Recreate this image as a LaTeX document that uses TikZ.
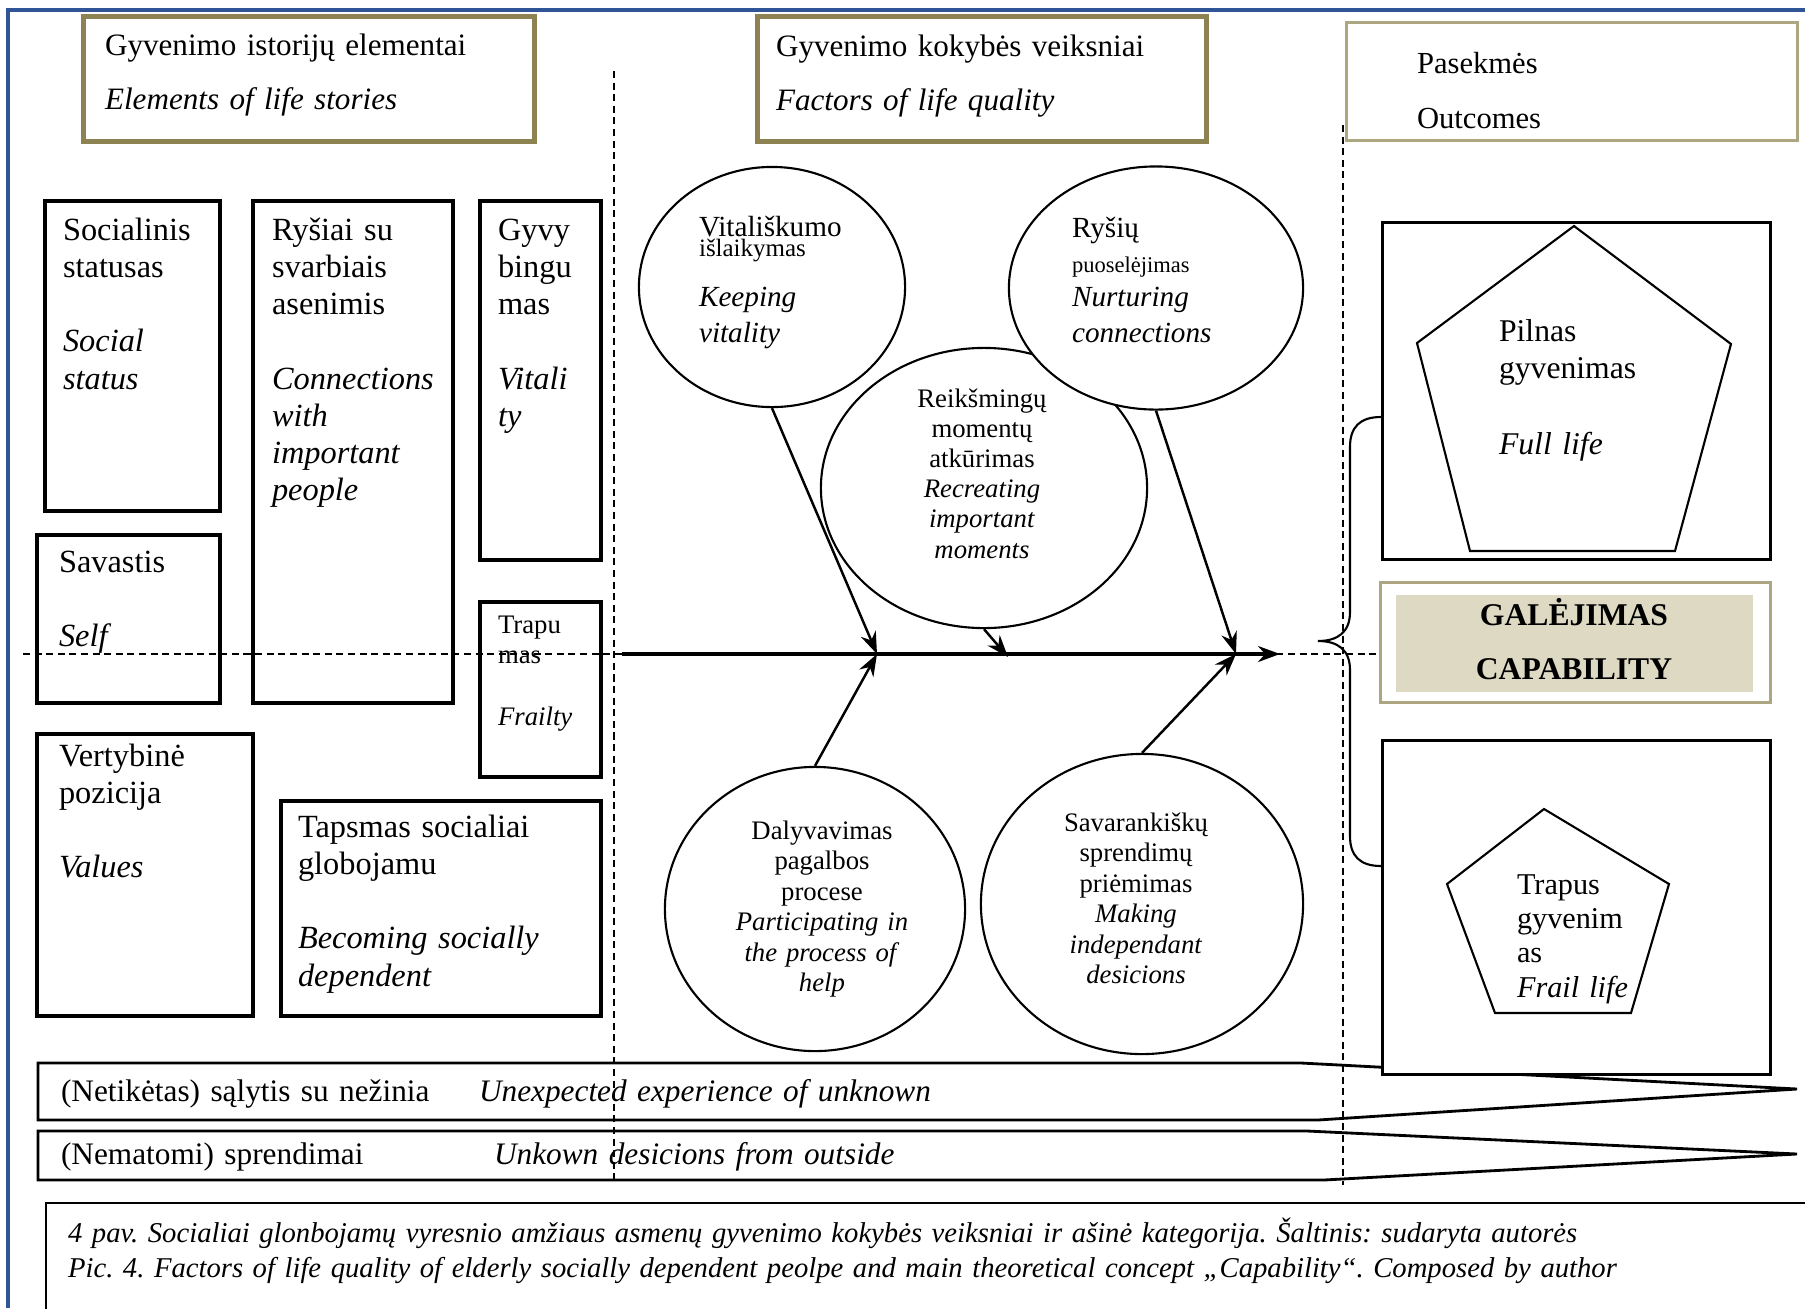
\documentclass[tikz,border=0pt]{standalone}
\usepackage{fontspec}
\setmainfont{Liberation Serif}
\usetikzlibrary{arrows.meta, shapes.geometric, calc}
\definecolor{olivo}{RGB}{140,130,82}
\definecolor{olivoclaro}{RGB}{172,167,128}
\definecolor{beige}{RGB}{221,217,195}
\definecolor{marco}{RGB}{47,85,151}
\frenchspacing

\begin{document}
\begin{tikzpicture}[x=0.01cm, y=-0.01cm, >={Stealth[length=2.2mm,width=1.6mm]}, line width=0.6pt,
  encab/.style={draw=olivo, line width=1.3pt, anchor=north west, inner sep=0pt},
  caja/.style={draw, line width=1pt, anchor=north west, inner sep=0pt},
  txt/.style={anchor=base west, inner sep=0pt, text width=3.2cm, align=left, font=\fontsize{9.2}{10.6}\selectfont},
  factor/.style={draw, ellipse, fill=white, inner sep=0pt},
  ftxt/.style={anchor=base, inner sep=0pt, text width=3cm, align=center, font=\fontsize{7.6}{8.7}\selectfont},
  guia/.style={dash pattern=on 2pt off 1.3pt, line width=0.5pt}]
  \useasboundingbox (0,0) rectangle (1805,1308);
  % marco
  \draw[marco, line width=0.9pt] (8,1308) -- (8,10) -- (1805,10);
  % encabezados
  \node[encab, minimum width=4.51cm, minimum height=1.25cm] (hist) at (81,14) {};
  \node[encab, minimum width=4.49cm, minimum height=1.25cm] (kok) at (755,14) {};
  \node[encab, draw=olivoclaro, line width=0.9pt, minimum width=4.51cm, minimum height=1.18cm] (pas) at (1345,21) {};
  \node[txt, text width=4.4cm, font=\fontsize{8.85}{15.6}\selectfont] (histt) at (104,55) {Gyvenimo istorijų elementai\\\textit{Elements of life stories}};
  \node[txt, text width=4.4cm, font=\fontsize{8.85}{15.6}\selectfont] (kokt) at (775,56) {Gyvenimo kokybės veiksniai\\\textit{Factors of life quality}};
  \node[txt, text width=4cm, font=\fontsize{8.7}{15.9}\selectfont] (past) at (1416,73) {Pasekmės\\Outcomes};
  % elementos de la historia de vida
  \node[caja, minimum width=1.75cm, minimum height=3.10cm] (soc) at (43,199) {};
  \node[caja, minimum width=2.00cm, minimum height=5.02cm] (rys) at (251,199) {};
  \node[caja, minimum width=1.21cm, minimum height=3.59cm] (gyv) at (478,199) {};
  \node[caja, minimum width=1.83cm, minimum height=1.68cm] (sav) at (35,533) {};
  \node[caja, minimum width=1.21cm, minimum height=1.75cm] (trap) at (478,600) {};
  \node[caja, minimum width=2.16cm, minimum height=2.82cm] (vert) at (35,732) {};
  \node[caja, minimum width=3.20cm, minimum height=2.15cm] (taps) at (279,799) {};
  \node[txt] (soct) at ([shift={(19,41)}]soc.north west) {Socialinis\\statusas\\[10.6pt]\textit{Social}\\\textit{status}};
  \node[txt] (ryst) at ([shift={(20,41)}]rys.north west) {Ryšiai su\\svarbiais\\asenimis\\[10.6pt]\textit{Connections}\\\textit{with}\\\textit{important}\\\textit{people}};
  \node[txt] (gyvt) at ([shift={(19,41)}]gyv.north west) {Gyvy\\bingu\\mas\\[10.6pt]\textit{Vitali}\\\textit{ty}};
  \node[txt] (savt) at ([shift={(23,39)}]sav.north west) {Savastis\\[10.6pt]\textit{Self}};
  \node[txt, font=\fontsize{7.6}{8.8}\selectfont] (trapt) at ([shift={(19,33)}]trap.north west) {Trapu\\mas\\[8.8pt]\textit{Frailty}};
  \node[txt] (vertt) at ([shift={(23,34)}]vert.north west) {Vertybinė\\pozicija\\[10.6pt]\textit{Values}};
  \node[txt] (tapst) at ([shift={(18,38)}]taps.north west) {Tapsmas socialiai\\globojamu\\[10.6pt]\textit{Becoming socially}\\\textit{dependent}};
  % factores
  \node[factor, minimum width=3.26cm, minimum height=2.80cm] (rei) at (984,488) {};
  \node[factor, minimum width=2.66cm, minimum height=2.40cm] (vit) at (772,287) {};
  \node[factor, minimum width=2.94cm, minimum height=2.43cm] (ryp) at (1156,288) {};
  \node[factor, minimum width=3.00cm, minimum height=2.84cm] (dal) at (815,909) {};
  \node[factor, minimum width=3.22cm, minimum height=3.00cm] (sar) at (1142,904) {};
  \node[txt, font=\fontsize{8.3}{10.5}\selectfont] (vit1) at (698,236) {Vitališkumo};
  \node[txt, font=\fontsize{7.1}{8}\selectfont] (vit2) at (698,256) {išlaikymas};
  \node[txt, font=\fontsize{8.3}{10.5}\selectfont\itshape] (vit3) at (698,306) {Keeping\\vitality};
  \node[txt, font=\fontsize{8.3}{10.5}\selectfont] (ryp1) at (1071,237) {Ryšių};
  \node[txt, font=\fontsize{6.4}{8}\selectfont] (ryp2) at (1071,272) {puoselėjimas};
  \node[txt, font=\fontsize{8.3}{10.5}\selectfont\itshape] (ryp3) at (1071,306) {Nurturing\\connections};
  \node[ftxt, font=\fontsize{7.6}{8.6}\selectfont] (reit) at (982,407) {Reikšmingų\\momentų\\atkūrimas\\\textit{Recreating}\\\textit{important}\\\textit{moments}};
  \node[ftxt] (dalt) at (822,839) {Dalyvavimas\\pagalbos\\procese\\\textit{Participating in}\\\textit{the process of}\\\textit{help}};
  \node[ftxt] (sart) at (1136,831) {Savarankiškų\\sprendimų\\priėmimas\\\textit{Making}\\\textit{independant}\\\textit{desicions}};
  % eje
  \coordinate (ejeI) at (23,654);   \coordinate (ejeD) at (1379,654);
  \coordinate (ejeA) at (622,654);  \coordinate (ejeB) at (1280,654);
  \coordinate (p1) at (877,654); \coordinate (p2) at (1008,657); \coordinate (p3) at (1236,654);
  \draw[guia] (ejeI) -- (ejeD);
  \draw[->, line width=0.9pt] (ejeA) -- (ejeB);
  \draw[->, line width=0.7pt] (vit.south) -- (p1);
  \draw[->, line width=0.7pt] (dal.north) -- (p1);
  \draw[->, line width=0.7pt] (rei.south) -- (p2);
  \draw[->, line width=0.7pt] (ryp.south) -- (p3);
  \draw[->, line width=0.7pt] (sar.north) -- (p3);
  % bandas inferiores
  \draw[line width=0.8pt] (38,1063) -- (1301,1063) -- (1797,1089) -- (1318,1120) -- (38,1120) -- cycle;
  \draw[line width=0.8pt] (38,1131) -- (1307,1131) -- (1797,1154) -- (1324,1180) -- (38,1180) -- cycle;
  \node[txt, text width=5cm, font=\fontsize{8.9}{10.6}\selectfont] (ban1) at (60,1101) {(Netikėtas) sąlytis su nežinia};
  \node[txt, text width=7cm, font=\fontsize{8.9}{10.6}\selectfont\itshape] (ban1i) at (478,1101) {Unexpected experience of unknown};
  \node[txt, text width=5cm, font=\fontsize{8.9}{10.6}\selectfont] (ban2) at (60,1164) {(Nematomi) sprendimai};
  \node[txt, text width=7cm, font=\fontsize{8.9}{10.6}\selectfont\itshape] (ban2i) at (493,1164) {Unkown desicions from outside};
  % pasekmes
  \node[caja, line width=0.8pt, fill=white, minimum width=3.88cm, minimum height=3.37cm] (pilr) at (1381,221) {};
  \node[caja, line width=0.8pt, fill=white, minimum width=3.88cm, minimum height=3.34cm] (frar) at (1381,739) {};
  \draw (1574,226) -- (1731,344) -- (1675,551) -- (1470,551) -- (1417,343) -- cycle;
  \draw (1544,809) -- (1669,884) -- (1631,1013) -- (1495,1013) -- (1447,884) -- cycle;
  \node[txt, font=\fontsize{9}{10.8}\selectfont] (pilt) at (1498,341) {Pilnas\\gyvenimas\\[10.8pt]\textit{Full life}};
  \node[txt, font=\fontsize{8.6}{9.8}\selectfont] (frat) at (1516,894) {Trapus\\gyvenim\\as\\\textit{Frail life}};
  \node[caja, draw=olivoclaro, line width=0.8pt, minimum width=3.90cm, minimum height=1.20cm] (gal) at (1379,581) {};
  \node[anchor=north west, fill=beige, inner sep=0pt, minimum width=3.57cm, minimum height=0.97cm] (galf) at (1395,594) {};
  \node[ftxt, font=\fontsize{9}{15.6}\selectfont\bfseries] (galt) at (1574,625) {GALĖJIMAS\\CAPABILITY};
  % llave
  \draw (pilr.west |- 0,417) .. controls (1360,417) and (1350,427) .. (1350,447) -- (1350,612)
    .. controls (1350,632) and (1338,641) .. (1318,641)
    .. controls (1338,641) and (1350,650) .. (1350,670) -- (1350,836)
    .. controls (1350,856) and (1360,866) .. (frar.west |- 0,866);
  % guias verticales
  \coordinate (g1a) at (614,71);  \coordinate (g1b) at (614,1185);
  \coordinate (g2a) at (1343,125); \coordinate (g2b) at (1343,1185);
  \draw[guia] (g1a) -- (g1b);
  \draw[guia] (g2a) -- (g2b);
  % leyenda
  \draw[line width=0.8pt] (1815,1203) -- (46,1203) -- (46,1320);
  \node[txt, text width=17cm, font=\fontsize{8.15}{10}\selectfont\itshape] (ley1) at (67,1242) {4 pav. Socialiai glonbojamų vyresnio amžiaus asmenų gyvenimo kokybės veiksniai ir ašinė kategorija. Šaltinis: sudaryta autorės};
  \node[txt, text width=17cm, font=\fontsize{8.15}{10}\selectfont\itshape] (ley2) at (67,1277) {Pic. 4. Factors of life quality of elderly socially dependent peolpe and main theoretical concept „Capability“. Composed by author};
\end{tikzpicture}
\end{document}
